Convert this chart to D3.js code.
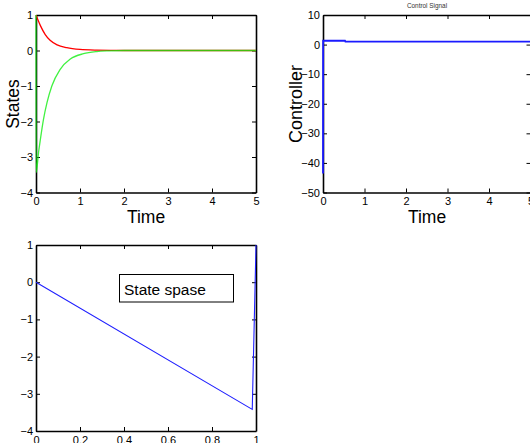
<!DOCTYPE html>
<html>
<head>
<meta charset="utf-8">
<script src="https://cdn.jsdelivr.net/npm/d3@7"></script>
<style>
  body { margin: 0; background: #fff; }
  svg { display: block; font-family: "Liberation Sans", Arial, sans-serif; }
  .axis path, .axis line { stroke: #000; }
  .axis path { stroke-width: 1.6; }
  .axis text { font-size: 11px; fill: #000; font-family: "Liberation Sans", Arial, sans-serif; }
</style>
</head>
<body>
<div id="main"><svg width="530" height="443"></svg></div>
<script>
// states vs time
var redT = [0, 0.1, 0.21, 0.32, 0.48, 0.7, 1.0, 1.38, 2, 3, 4, 5]
var redV = [1, 0.7, 0.45, 0.29, 0.16, 0.08, 0.03, 0.01, 0, 0, 0, 0]
var greenT = [0, 0.003, 0.06, 0.1, 0.17, 0.25, 0.36, 0.55, 0.78, 1.08, 1.38, 1.65, 2, 3, 4, 5]
var greenV = [1, -3.44, -2.85, -2.5, -1.94, -1.47, -1.0, -0.53, -0.24, -0.09, -0.03, -0.01, 0, 0, 0, 0]

// control signal
var ctrlT = [0, 0.003, 0.53, 0.54, 5]
var ctrlV = [-43.6, 1.3, 1.3, 1.0, 1.0]

// state space
var phaseX = [1, 0.983, 0]
var phaseY = [1, -3.42, 0]

var timeTicks = [0, 1, 2, 3, 4, 5]
var statesTicks = [-4, -3, -2, -1, 0, 1]
var ctrlTicks = [-50, -40, -30, -20, -10, 0, 10]
var phaseXTicks = [0, 0.2, 0.4, 0.6, 0.8, 1]

var svg = d3.select('#main svg')

function zip (a, b) {
  return a.map((d, i) => [d, b[i]])
}

function panel (opt) {
  var x = d3.scaleLinear().domain(opt.xDomain).range([opt.left, opt.right])
  var y = d3.scaleLinear().domain(opt.yDomain).range([opt.bottom, opt.top])
  var g = svg.append('g')
  var ts = 4

  g.append('g')
      .attr('class', 'axis')
      .attr('transform', `translate(0, ${opt.top})`)
      .call(d3.axisTop(x).tickValues(opt.xTicks).tickSize(-ts).tickSizeOuter(0).tickFormat(''))
  g.append('g')
      .attr('class', 'axis')
      .attr('transform', `translate(${opt.right}, 0)`)
      .call(d3.axisRight(y).tickValues(opt.yTicks).tickSize(-ts).tickSizeOuter(0).tickFormat(''))
  g.append('g')
      .attr('class', 'axis')
      .attr('transform', `translate(0, ${opt.bottom})`)
      .call(d3.axisBottom(x).tickValues(opt.xTicks).tickSize(-ts).tickSizeOuter(0).tickPadding(5).tickFormat(d3.format('')))
  g.append('g')
      .attr('class', 'axis')
      .attr('transform', `translate(${opt.left}, 0)`)
      .call(d3.axisLeft(y).tickValues(opt.yTicks).tickSize(-ts).tickSizeOuter(0).tickPadding(3).tickFormat(d3.format('')))

  return { g: g, x: x, y: y }
}

function drawLine (p, data, color, width, curve, opacity) {
  var line = d3.line()
      .x(_ => p.x(_[0]))
      .y(_ => p.y(_[1]))
      .curve(curve || d3.curveLinear)
  p.g.append('path')
      .datum(data)
      .attr('fill', 'none')
      .attr('stroke', color)
      .attr('stroke-width', width)
      .attr('stroke-opacity', opacity || 1)
      .attr('d', line)
}

// panel 1
var p1 = panel({ left: 36, right: 256, top: 15, bottom: 192.5,
  xDomain: [0, 5], yDomain: [-4, 1], xTicks: timeTicks, yTicks: statesTicks })
drawLine(p1, zip(redT, redV), '#ff0000', 1.3, d3.curveMonotoneX)
drawLine(p1, zip(greenT, greenV), '#11ee11', 1.3, d3.curveMonotoneX, 0.8)

svg.append('text')
    .attr('x', 146).attr('y', 223)
    .attr('text-anchor', 'middle')
    .style('font-size', '17.5px')
    .text('Time')
svg.append('text')
    .attr('transform', 'translate(18.5, 104) rotate(-90)')
    .attr('text-anchor', 'middle')
    .style('font-size', '17.5px')
    .text('States')

// panel 2
var p2 = panel({ left: 323, right: 530.5, top: 15, bottom: 192.5,
  xDomain: [0, 5], yDomain: [-50, 10], xTicks: timeTicks, yTicks: ctrlTicks })
drawLine(p2, zip(ctrlT, ctrlV), '#1a1aff', 1.8)

svg.append('text')
    .attr('x', 427).attr('y', 223)
    .attr('text-anchor', 'middle')
    .style('font-size', '17.5px')
    .text('Time')
svg.append('text')
    .attr('transform', 'translate(302, 104) rotate(-90)')
    .attr('text-anchor', 'middle')
    .style('font-size', '18px')
    .text('Controller')
svg.append('text')
    .attr('x', 427).attr('y', 7.5)
    .attr('text-anchor', 'middle')
    .attr('fill', '#333')
    .style('font-size', '6.4px')
    .text('Control Signal')

// panel 3
var p3 = panel({ left: 36, right: 256, top: 245, bottom: 431,
  xDomain: [0, 1], yDomain: [-4, 1], xTicks: phaseXTicks, yTicks: statesTicks })
drawLine(p3, zip(phaseX, phaseY), '#2020ff', 1.1)

p3.g.append('rect')
    .attr('x', 119.5).attr('y', 274.5)
    .attr('width', 114).attr('height', 27.5)
    .attr('fill', '#fff')
    .attr('stroke', '#000')
    .attr('stroke-width', 1)
p3.g.append('text')
    .attr('x', 124).attr('y', 294.5)
    .style('font-size', '15.5px')
    .text('State spase')
</script>
</body>
</html>
